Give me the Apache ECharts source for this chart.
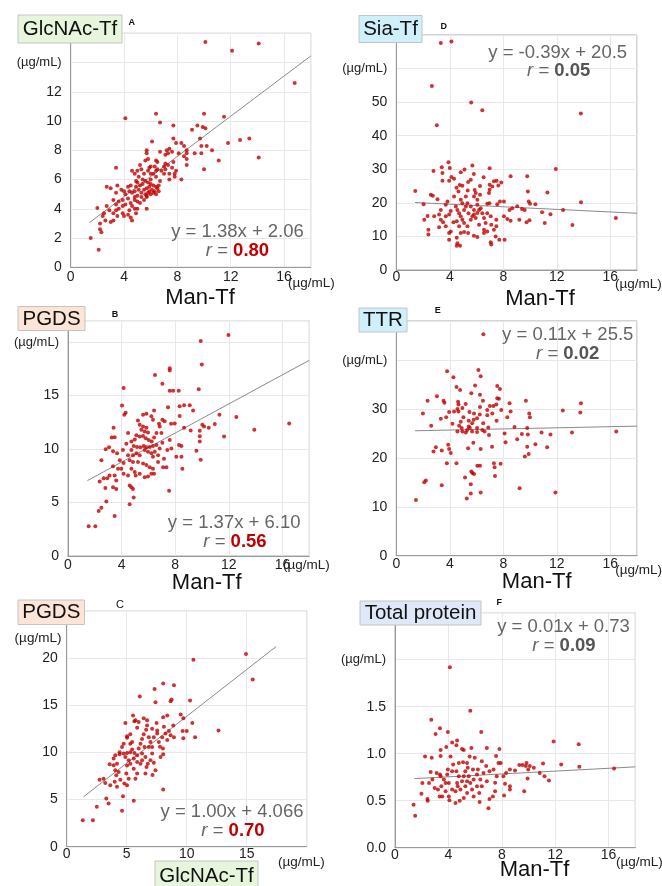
<!DOCTYPE html>
<html>
<head>
<meta charset="utf-8">
<script src="https://cdn.jsdelivr.net/npm/echarts@6/dist/echarts.min.js"></script>
<style>
html, body { margin: 0; padding: 0; background: #fff; }
#chart { width: 662px; height: 886px; }
</style>
</head>
<body>
<div id="chart"></div>
<script>
// GlcNAc-Tf vs Man-Tf
const ptsA = [
  [10.1,15.4],[14.1,15.3],[12.1,14.8],[16.8,12.6],[4.1,10.2],[6.4,10.5],[6.7,9.9],[10.0,10.5],[11.5,10.3],[7.7,9.7],[9.5,9.7],[9.1,9.4],[9.9,9.6],[10.1,9.5],[9.7,8.8],[7.7,8.8],[13.4,8.8],[12.7,8.7],[11.8,8.5],[14.1,7.5],[11.1,7.3],[10.6,8.0],[10.0,6.7],[9.8,8.3],[10.2,8.3],[9.8,7.8],[9.3,7.8],
  [8.3,8.5],[8.5,8.3],[8.7,8.0],[8.7,7.8],[8.5,7.6],[8.1,7.8],[7.9,8.5],[8.7,7.4],[8.7,7.0],[8.3,6.0],
  [3.4,6.8],[6.1,8.6],[5.7,8.0],[5.7,7.8],[5.8,7.4],[5.6,7.3],[6.4,7.3],[6.5,7.2],
  [7.2,8.0],[7.3,7.8],[7.1,7.7],[7.4,8.1],[7.6,7.9],[6.7,7.9],
  [7.0,6.9],[7.1,7.1],[7.1,6.7],[7.3,7.0],[7.6,6.8],[7.7,7.2],[7.4,6.4],[7.8,6.4],[7.9,6.6],[7.8,6.2],[7.4,6.0],[7.0,6.4],
  [6.3,6.9],[6.5,6.7],[6.8,6.6],[6.4,6.6],[6.2,6.4],[5.9,6.8],[6.0,6.9],[5.8,6.6],[6.0,6.4],[6.4,6.2],[6.0,6.0],
  [5.2,7.0],[5.3,6.7],[5.0,6.6],[5.5,6.4],[5.4,6.0],[5.1,6.2],[4.8,6.4],[4.6,6.6],[4.9,5.9],
  [5.0,5.8],[5.2,5.6],[5.4,5.7],[5.6,5.9],[5.8,5.8],[6.0,5.7],[6.2,5.6],[6.4,5.5],[5.5,5.3],[5.7,5.4],[5.9,5.2],[6.1,5.3],[6.3,5.2],[6.5,5.4],[5.3,5.1],[5.6,5.0],[5.8,5.1],[6.0,5.0],[6.2,5.1],[6.4,5.0],[5.1,5.3],[4.9,5.5],[4.8,5.2],[5.0,4.9],[5.7,4.9],[5.9,5.5],[6.6,5.6],[6.7,5.9],[6.6,5.2],
  [4.3,5.5],[4.5,5.6],[4.4,5.2],[4.6,5.1],[4.8,4.8],[5.3,4.8],[4.8,4.6],[5.0,4.5],[5.5,4.6],[5.7,4.8],
  [2.7,5.5],[3.0,5.4],[3.5,5.6],[3.4,5.1],[3.8,5.3],[4.0,5.2],[4.1,5.0],[4.3,4.7],[3.9,4.6],[3.6,4.5],[3.2,4.6],[3.4,4.3],[3.6,4.0],[3.9,4.2],[4.1,4.3],[4.5,4.4],[4.6,4.2],[4.8,4.0],[4.4,3.9],[3.9,3.7],[4.0,3.5],[4.3,3.6],[4.5,3.4],[4.6,3.2],[4.9,3.7],[5.0,4.0],[5.2,4.4],
  [2.7,4.2],[2.9,3.9],[2.5,3.7],[2.4,3.5],[2.6,3.2],[2.2,3.0],[3.0,3.1],[3.2,3.7],[3.4,3.9],[3.5,3.5],[3.2,3.2],
  [2.0,4.05],[1.5,2.0],[2.1,1.2],[2.2,2.6],[2.3,2.4],[5.7,4.0]
];
// Sia-Tf vs Man-Tf
const ptsD = [
  [3.33,67.6],[4.12,68.1],[2.66,54.8],[3.03,43.1],[5.6,49.9],[6.43,47.6],[13.8,46.6],
  [3.9,32.1],[4.0,30.4],[3.4,30.6],[2.78,29.5],[3.45,28.9],[3.45,26.6],[3.08,21.1],[2.58,22.4],[2.73,22.1],[1.42,23.5],[2.04,19.6],[2.34,16.1],[2.09,15.0],
  [5.1,29.9],[5.69,31.1],[5.8,28.6],[4.82,29.1],[4.32,27.2],[4.12,27.7],[3.95,26.6],[6.98,30.3],[6.53,27.6],[6.26,25.0],[6.26,22.4],[5.86,23.8],[5.94,22.9],[5.34,23.7],[4.65,23.4],[4.5,24.5],[4.74,25.3],[4.94,25.1],[5.37,26.2],[5.57,26.9],
  [7.3,26.4],[7.5,26.6],[7.85,26.1],[7.63,25.2],[6.98,25.4],[7.18,24.9],[6.98,23.9],[6.93,22.9],[8.55,27.9],[9.79,27.9],[9.84,23.4],[11.3,23.1],[11.93,30.1],[13.81,20.2],[12.47,17.9],[13.17,13.4],[16.42,15.5],[11.53,16.6],[10.9,17.2],[10.4,19.6],[9.9,20.4],[10.0,19.7],[9.6,17.9],[9.4,18.2],[9.04,19.0],[8.67,18.4],[8.47,17.9],[8.05,20.4],[7.75,20.4],[7.55,19.6],[6.96,19.9],[6.8,19.7],
  [9.74,14.2],[9.96,14.8],[9.2,15.0],[8.55,14.7],[8.05,16.0],[8.3,15.2],[8.1,9.0],[7.7,9.0],[7.06,8.3],[7.1,7.6],[11.1,14.0],
  [4.52,7.2],[4.57,8.0],[4.77,7.2],[4.52,9.6],[4.82,11.0],[5.07,11.3],[5.37,11.0],[5.8,10.2],[6.06,9.8],[6.8,11.5],[7.3,12.0],[7.43,10.0],[3.95,9.0],[4.07,11.5],[3.95,11.0],[3.7,13.0],[3.2,12.7],[2.4,12.0],[2.4,10.6],
  [2.83,16.0],[3.2,16.5],[3.33,15.0],[3.5,14.2],[3.7,16.0],[3.95,16.5],[4.07,17.6],[4.57,17.9],[4.7,16.9],[4.82,16.0],[4.94,15.0],[5.07,14.0],[5.32,13.0],[5.57,15.0],[5.69,16.0],[5.81,16.5],[5.94,15.5],[6.06,17.0],[6.19,17.9],[6.31,18.4],[6.43,16.9],[6.56,15.5],[6.68,14.0],
  [5.57,18.9],[5.32,19.9],[5.2,18.9],[5.07,17.9],[5.81,17.9],[6.06,19.4],[5.4,16.9],[4.52,14.5],[4.27,14.2],[4.7,13.0],[6.19,13.5],[7.1,13.5],[6.8,16.9],[7.06,16.0],[7.48,15.0],[7.48,13.0],[6.56,12.0],[6.56,11.0],
  [4.94,19.9],[4.82,20.9],[4.45,18.9],[3.83,20.4],[3.7,19.4],[3.33,17.9],[4.32,21.9],[5.2,21.9],[6.06,20.9],[5.81,21.9]
];
// PGDS vs Man-Tf
const ptsB = [
  [11.97,20.66],[9.9,20.1],[9.98,17.9],[7.59,17.56],[7.59,17.34],[6.49,16.93],[7.04,16.1],[9.75,15.6],[7.59,15.44],[7.84,15.44],[8.26,15.44],[4.15,15.7],[4.03,14.08],[4.3,13.4],[4.2,13.2],[3.4,12.0],[3.48,11.1],[3.26,11.08],[3.06,10.16],[2.81,9.97],[2.49,8.96],[3.36,9.8],[3.66,9.6],
  [8.33,14.0],[8.66,14.1],[9.08,14.1],[9.33,13.6],[8.33,13.1],[7.46,13.9],[6.42,13.6],[7.04,12.75],[6.79,12.37],[7.21,12.6],[7.69,12.37],[7.96,12.4],[8.66,12.0],[9.15,11.74],[9.83,11.7],[10.02,12.28],[10.15,12.1],[10.5,12.0],[10.95,12.34],[11.3,13.2],[11.64,11.17],[12.56,13.0],[13.9,11.8],[16.5,12.4],
  [9.83,11.2],[9.83,10.7],[9.58,9.84],[9.9,9.0],[8.28,10.38],[8.46,10.28],[8.08,9.27],[8.46,9.27],[8.53,8.16],[7.54,6.1],[7.59,10.85],[7.71,10.06],[7.41,9.9],[7.04,10.6],[6.97,11.5],[7.16,9.1],[7.34,8.3],[7.09,8.3],
  [5.6,13.2],[5.85,13.3],[6.22,13.07],[6.34,12.75],[5.22,12.66],[5.35,12.28],[5.6,12.1],[5.85,12.0],[5.47,11.8],[5.72,11.65],[5.97,11.55],[5.1,11.3],[5.35,11.17],[5.6,11.23],[5.8,11.0],[6.02,10.85],[6.24,10.7],[6.42,11.08],[4.98,10.9],[4.73,10.7],[4.9,10.28],[5.15,10.2],[5.4,10.16],[5.65,10.28],[5.85,10.16],[6.1,10.2],[6.34,10.28],[6.6,10.38],
  [5.72,9.9],[5.97,9.75],[6.22,9.6],[6.47,9.75],[6.72,9.43],[6.34,9.27],[6.84,10.06],[4.73,9.9],[4.48,9.43],[4.85,9.43],[5.1,9.6],[4.6,8.96],[4.85,8.8],[5.22,8.8],[5.6,8.64],[5.85,8.5],[4.73,8.16],[4.98,7.85],[5.35,7.7],[5.05,7.53],[5.72,7.37],[5.97,7.44],[6.22,7.69],[6.42,7.69],[4.48,7.53],
  [4.6,6.58],[4.73,6.42],[4.85,6.27],[4.9,5.47],[4.6,4.84],[4.15,8.7],[3.98,8.16],[4.15,7.69],[3.73,8.16],[3.36,8.4],[3.48,7.53],[3.1,7.53],[3.6,7.05],[3.36,6.42],[3.6,6.27],[2.93,7.28],[2.66,7.28],[2.36,6.96],[2.79,6.36],[2.86,5.1],[2.49,4.5],[2.29,4.2],[3.48,3.73],[1.54,2.78],[2.04,2.78],
  [4.35,10.5],[4.48,11.5],[4.1,9.9],[3.86,8.96],[6.1,8.3],[6.34,8.16],[5.35,9.43],[6.72,8.8],[6.84,12.1],[6.6,11.5]
];
// TTR vs Man-Tf
const ptsE = [
  [6.51,45.3],[6.14,38.0],[3.8,37.7],[4.27,36.5],[6.31,36.7],[4.5,34.5],[4.77,33.9],[5.89,34.8],[5.61,33.2],[6.26,32.9],[7.55,34.7],[7.75,34.1],
  [2.34,31.7],[3.04,32.6],[3.53,31.7],[3.6,31.3],[4.62,31.5],[4.65,30.9],[5.19,31.0],[5.47,29.4],[6.26,30.4],[6.48,31.7],[7.0,30.6],[7.26,30.6],[7.48,30.9],[7.55,32.2],[7.68,32.1],[8.47,31.2],
  [1.99,29.1],[2.61,26.6],[3.33,28.0],[3.73,28.3],[3.95,29.4],[4.32,29.5],[4.57,30.0],[4.65,29.5],[4.94,30.2],[5.02,28.3],[4.82,27.4],[4.7,26.6],[4.89,26.1],[4.94,25.4],[4.57,25.4],[5.3,25.7],[5.42,26.4],[5.67,27.1],[5.79,27.8],[6.04,28.1],[6.24,28.9],[6.5,27.1],[5.67,25.4],[6.04,26.1],[5.5,26.1],[5.2,25.2],[6.04,25.3],[6.43,25.7],[6.88,26.2],[6.93,24.7],
  [7.18,29.1],[7.5,27.6],[7.85,29.8],[8.3,28.3],[8.55,29.5],[8.84,26.3],[9.04,23.8],[9.39,24.9],[9.69,31.7],[9.79,26.1],[9.84,24.8],[9.94,29.1],[9.99,28.3],[9.79,22.3],[9.61,20.3],[9.9,20.8],[10.4,22.8],[10.86,25.2],[11.53,24.8],[11.28,22.2],[12.45,29.7],[13.14,25.2],[13.76,29.3],[13.81,31.2],[16.45,25.4],[11.9,12.9],[9.22,13.8],
  [8.17,23.2],[8.1,25.0],[7.16,22.3],[6.31,21.8],[5.76,23.1],[5.37,22.0],[4.07,21.0],[3.88,22.7],[3.95,21.8],[3.4,21.5],[2.96,22.2],[2.78,21.3],[3.78,18.9],[4.5,18.9],[2.09,15.0],[2.21,15.4],[1.47,11.4],[3.4,14.4],
  [5.14,16.0],[5.61,17.2],[5.69,16.9],[5.81,16.7],[5.57,14.6],[5.57,12.7],[5.27,11.7],[6.06,18.4],[6.26,18.4],[6.31,12.9],[7.3,18.9],[7.35,18.1],[7.38,16.3],[7.8,18.8],
  [4.2,27.0],[5.81,29.1],[6.6,25.4],[5.42,27.6],[6.8,28.7],[6.8,29.8]
];
// PGDS vs GlcNAc-Tf
const ptsC = [
  [14.94,20.4],[10.56,19.8],[15.5,17.7],[8.04,17.3],[8.94,17.1],[7.32,16.7],[6.09,15.9],[7.4,15.3],[8.66,15.4],[8.74,15.6],[10.28,15.5],[9.5,14.0],[9.72,13.6],[10.47,13.1],[12.65,12.3],[10.7,11.6],[10.0,12.25],[9.66,12.25],[9.72,11.5],
  [8.88,12.85],[8.52,12.25],[8.04,13.7],[8.38,13.9],[8.1,12.7],[8.24,12.0],[7.96,11.6],[7.77,10.6],[8.02,10.4],[8.04,9.8],[7.82,9.5],[8.04,6.06],[7.4,8.1],[7.15,7.6],[7.26,8.9],[6.98,9.15],[6.76,8.8],[7.12,9.86],[6.84,10.56],[6.98,11.1],[7.26,11.6],[6.84,11.6],[7.54,12.0],[7.49,13.1],
  [6.7,12.85],[6.62,12.4],[6.42,11.9],[6.28,11.4],[6.15,10.9],[6.48,10.56],[6.0,10.4],[6.28,9.86],[6.56,9.5],[6.65,8.45],[6.56,7.75],[5.87,12.6],[5.73,13.4],[5.53,13.9],[5.64,13.3],[4.89,13.1],[5.3,11.9],[5.45,11.1],[5.03,11.7],[5.03,11.55],[4.75,10.9],[5.3,10.9],[5.45,10.3],[5.64,9.93],[5.87,9.7],
  [5.3,10.0],[5.03,9.93],[4.75,9.86],[4.41,10.0],[4.41,9.8],[4.89,9.5],[5.17,9.15],[5.59,9.33],[5.87,8.98],[6.15,8.8],[5.3,8.8],[5.03,8.6],[5.59,8.27],[5.87,7.75],[5.73,7.2],[4.97,7.75],[5.17,7.2],[4.8,6.7],[5.03,6.5],[4.47,7.1],[4.33,7.9],[4.05,8.1],[4.13,7.57],[3.91,8.63],[3.58,8.73],[3.91,9.33],[4.19,8.8],
  [4.0,6.87],[4.19,6.34],[3.63,6.5],[3.07,7.2],[2.74,7.1],[3.21,6.76],[3.3,5.1],[3.49,4.58],[2.51,4.23],[4.69,5.35],[5.59,4.86],[4.61,3.8],[1.34,2.8],[2.18,2.8],
  [6.42,13.6],[6.7,13.4],[6.0,13.2],[7.54,12.3],[7.12,12.5],[7.68,11.1],[8.38,11.3],[8.66,11.8],[8.94,11.6],[4.61,10.56],[4.05,9.68],[6.28,9.15],[7.12,10.56]
];
// Total protein vs Man-Tf
const ptsF = [
  [4.11,1.92],[5.64,1.457],[2.72,1.36],[3.37,1.27],[3.04,1.21],[3.96,1.23],[6.46,1.23],[11.88,1.13],[13.76,1.10],[4.28,1.12],[4.65,1.14],[3.84,1.07],[5.72,1.06],[6.88,1.06],[7.82,1.05],[3.42,1.04],[5.02,1.05],[5.15,1.04],[4.6,1.09],
  [3.42,0.975],[4.16,0.97],[2.25,0.97],[2.75,0.957],[5.59,0.97],[5.97,0.957],[4.78,0.90],[5.1,0.91],[5.4,0.90],[6.5,0.92],[7.57,0.975],[7.75,0.90],[7.92,0.90],[11.09,0.896],[12.45,0.886],[13.81,0.861],[16.41,0.843],
  [9.31,0.879],[9.55,0.879],[9.8,0.868],[9.85,0.90],[9.98,0.832],[10.1,0.868],[10.4,0.85],[10.84,0.796],[11.2,0.76],[11.53,0.714],[9.93,0.736],[9.68,0.60],[8.99,0.82],[8.61,0.832],[8.32,0.796],[8.12,0.76],[8.24,0.68],[8.61,0.654],[8.61,0.618],[8.17,0.554],
  [7.62,0.76],[7.5,0.69],[7.5,0.60],[7.33,0.546],[7.08,0.518],[7.0,0.421],[6.88,0.707],[6.63,0.796],[7.08,0.814],[7.38,0.832],[6.83,0.868],[6.21,0.832],[6.14,0.779],[6.39,0.725],[6.14,0.654],[6.31,0.582],[6.34,0.486],[5.89,0.546],[5.77,0.618],[5.64,0.689],[5.52,0.76],[5.84,0.832],
  [5.27,0.814],[5.15,0.76],[5.02,0.707],[5.27,0.654],[5.4,0.582],[5.15,0.529],[4.9,0.618],[4.65,0.689],[4.78,0.76],[4.6,0.814],[4.7,0.654],[4.53,0.60],[4.53,0.475],[4.85,0.50],[4.08,0.504],[4.28,0.618],[4.03,0.689],[3.96,0.832],[3.91,0.779],[3.66,0.725],[3.79,0.689],[3.47,0.654],[3.34,0.546],[3.54,0.546],
  [3.12,0.796],[3.37,0.779],[2.67,0.804],[2.8,0.725],[2.97,0.636],[2.55,0.689],[2.05,0.689],[1.98,0.575],[2.43,0.518],[2.45,0.50],[1.39,0.457],[1.51,0.339],
  [3.22,0.618],[3.79,0.60],[5.4,0.707],[5.89,0.725],[6.5,0.654],[5.45,0.85],[4.36,0.886],[4.28,0.814],[3.42,0.76],[4.03,0.546]
];

// fitted lines (end points as drawn)
const fitA = [[1.4, 3.05], [18, 14.45]];
const fitD = [[1.4, 20.1], [18, 16.9]];
const fitB = [[1.45, 7.05], [18, 18.3]];
const fitE = [[1.4, 25.55], [18, 26.5]];
const fitC = [[1.4, 5.28], [17.45, 21.2]];
const fitF = [[1.45, 0.735], [18, 0.86]];

const eqTexts = ['y = 1.38x + 2.06', 'y = -0.39x + 20.5', 'y = 1.37x + 6.10', 'y = 0.11x + 25.5', 'y = 1.00x + 4.066', 'y = 0.01x + 0.73'];
const rValues = ['0.80', '0.05', '0.56', '0.02', '0.70', '0.09'];
const yNames = ['GlcNAc-Tf', 'Sia-Tf', 'PGDS', 'TTR', 'PGDS', 'Total protein'];
const xNames = ['Man-Tf', 'Man-Tf', 'Man-Tf', 'Man-Tf', 'GlcNAc-Tf', 'Man-Tf'];
const letters = ['A', 'D', 'B', 'E', 'C', 'F'];
const unit = '(µg/mL)';

const FONT = 'Liberation Sans, Arial, Helvetica, sans-serif';
const RED = '#c00000';

const panels = [
  { pts: ptsA, fit: fitA, g: [70.7, 33.3, 240, 234], xMax: 18, xInt: 4, xLab: 16, xm: 2.5, yMax: 16, yInt: 2, yLab: 12, yUnit: 14,
    box: [18, 15, 104, 28, '#e7f5dd'], let: [131.7, 22.7], eq: [237.5, 231.7], r: [237.5, 250.5], red: true,
    xu: [288, 283], xt: [200, 298] },
  { pts: ptsD, fit: fitD, g: [396.3, 35, 240.7, 235], xMax: 18, xInt: 4, xLab: 16, xm: 0, yMax: 70, yInt: 10, yLab: 50, yUnit: 60,
    box: [359, 15.5, 63, 27, '#cfeffa'], let: [443.7, 27], eq: [557.7, 52.7], r: [558.7, 71], red: false,
    xu: [615, 284], xt: [540, 299] },
  { pts: ptsB, fit: fitB, g: [68, 320.7, 241.3, 235.3], xMax: 18, xInt: 4, xLab: 16, xm: 2.5, yMax: 22, yInt: 5, yLab: 15, yUnit: 20,
    box: [18, 306.5, 67, 24, '#fce4d7'], let: [115, 315], eq: [234.2, 522.7], r: [235, 541.5], red: true,
    xu: [283, 565], xt: [206.7, 583] },
  { pts: ptsE, fit: fitE, g: [396.3, 321, 240.7, 234.7], xMax: 18, xInt: 4, xLab: 16, xm: 1.5, yMax: 48, yInt: 10, yLab: 30, yUnit: 40,
    box: [359, 308, 48, 24, '#cfeffa'], let: [437.7, 310.7], eq: [567.7, 335], r: [567.7, 354.3], red: false,
    xu: [615.3, 570], xt: [536.7, 582.3] },
  { pts: ptsC, fit: fitC, g: [66.7, 610.7, 240, 236], xMax: 20, xInt: 5, xLab: 15, xm: 0, yMax: 25, yInt: 5, yLab: 20, yUnit: null,
    box: [18, 600, 66.5, 24.5, '#fce4d7'], let: [120, 605], eq: [232, 811.7], r: [233, 830.5], red: true,
    xu: [278, 862], xt: null },
  { pts: ptsF, fit: fitF, g: [395, 612.7, 240.3, 235], xMax: 18, xInt: 4, xLab: 16, xm: 0, yMax: 2.5, yInt: 0.5, yLab: 1.5, yUnit: 2.0,
    box: [360, 601, 121, 24, '#dee8f8'], let: [499.3, 602.7], eq: [563.5, 626.7], r: [564, 645.5], red: false,
    xu: [616, 862.7], xt: [534.5, 870] }
];

const grids = [], xAxes = [], yAxes = [], series = [], graphics = [];

function txt(x, y, text, size, color, extra) {
  return Object.assign({
    type: 'text', x: x, y: y, z: 110,
    style: {
      text: text, fill: color, fontSize: size, fontFamily: FONT,
      font: size + 'px ' + FONT,
      align: 'center', verticalAlign: 'middle', textAlign: 'center', textVerticalAlign: 'middle'
    }
  }, extra || {});
}

panels.forEach(function (p, i) {
  grids.push({ left: p.g[0], top: p.g[1], width: p.g[2], height: p.g[3], show: true, borderColor: '#a8a8a8', borderWidth: 1, backgroundColor: 'transparent' });
  const dec = p.yInt < 1 ? 1 : 0;
  xAxes.push({
    type: 'value', gridIndex: i, min: 0, max: p.xMax, interval: p.xInt,
    axisLine: { show: true, lineStyle: { color: '#999' } },
    axisTick: { show: false },
    splitLine: { show: true, lineStyle: { color: '#e8e8e8' } },
    axisLabel: {
      margin: p.xm, fontSize: 14, color: '#222', fontFamily: FONT,
      formatter: function (v) { return v > p.xLab + 1e-9 ? '' : String(v); }
    }
  });
  yAxes.push({
    type: 'value', gridIndex: i, min: 0, max: p.yMax, interval: p.yInt,
    axisLine: { show: true, lineStyle: { color: '#999' } },
    axisTick: { show: false },
    splitLine: { show: true, lineStyle: { color: '#e8e8e8' } },
    axisLabel: {
      margin: 9, fontSize: 14, color: '#222', fontFamily: FONT,
      formatter: function (v) {
        if (p.yUnit !== null && Math.abs(v - p.yUnit) < 1e-9) return '{u|' + unit + '}';
        if (v > p.yLab + 1e-9) return '';
        return v.toFixed(dec);
      },
      rich: { u: { fontSize: 13, color: '#222', fontFamily: FONT } }
    }
  });
  series.push({
    type: 'scatter', xAxisIndex: i, yAxisIndex: i, data: p.pts,
    symbol: 'circle', symbolSize: 4, itemStyle: { color: '#c00000' }, silent: true, z: 3
  });
  series.push({
    type: 'line', xAxisIndex: i, yAxisIndex: i, data: p.fit, symbol: 'none',
    lineStyle: { color: '#8a8a8a', width: 1 }, silent: true, z: 2
  });

  // y-variable label box
  graphics.push({
    type: 'rect', z: 105,
    shape: { x: p.box[0], y: p.box[1], width: p.box[2], height: p.box[3] },
    style: { fill: p.box[4], stroke: '#c4c4c4', lineWidth: 1 }
  });
  graphics.push(txt(p.box[0] + p.box[2] / 2, p.box[1] + p.box[3] / 2 + 0.5, yNames[i], 20.5, '#111'));
  // panel letter
  const isC = letters[i] === 'C';
  const lt = txt(p.let[0], p.let[1], letters[i], isC ? 11 : 9, '#111');
  lt.style.fontWeight = isC ? 'normal' : 'bold';
  lt.style.font = (isC ? '' : 'bold ') + (isC ? 11 : 9) + 'px ' + FONT;
  graphics.push(lt);
  // regression text
  graphics.push(txt(p.eq[0], p.eq[1], eqTexts[i], 18.5, '#666'));
  const rt = txt(p.r[0], p.r[1], '{i|r} = {b|' + rValues[i] + '}', 18.5, '#666');
  rt.style.rich = {
    i: { fontStyle: 'italic', fontSize: 18.5, fontFamily: FONT, fill: '#666' },
    b: { fontWeight: 'bold', fontSize: 18.5, fontFamily: FONT, fill: p.red ? RED : '#555' }
  };
  graphics.push(rt);
  // x unit
  const xu = txt(p.xu[0], p.xu[1], unit, 13.5, '#222');
  xu.style.align = 'left'; xu.style.textAlign = 'left';
  graphics.push(xu);
  // x-variable title
  if (p.xt) graphics.push(txt(p.xt[0], p.xt[1], xNames[i], 22, '#111'));
});

// panel C: y unit and boxed x-variable label
graphics.push(txt(38, 638.3, unit, 13.5, '#222'));
graphics.push({
  type: 'rect', z: 105,
  shape: { x: 155, y: 861, width: 103, height: 30 },
  style: { fill: '#e7f5dd', stroke: '#c4c4c4', lineWidth: 1 }
});
graphics.push(txt(206.5, 876, xNames[4], 20.5, '#111'));

const chart = echarts.init(document.getElementById('chart'), null, { renderer: 'canvas' });
chart.setOption({
  animation: false,
  backgroundColor: '#fff',
  grid: grids,
  xAxis: xAxes,
  yAxis: yAxes,
  series: series,
  graphic: graphics
});
</script>
</body>
</html>
